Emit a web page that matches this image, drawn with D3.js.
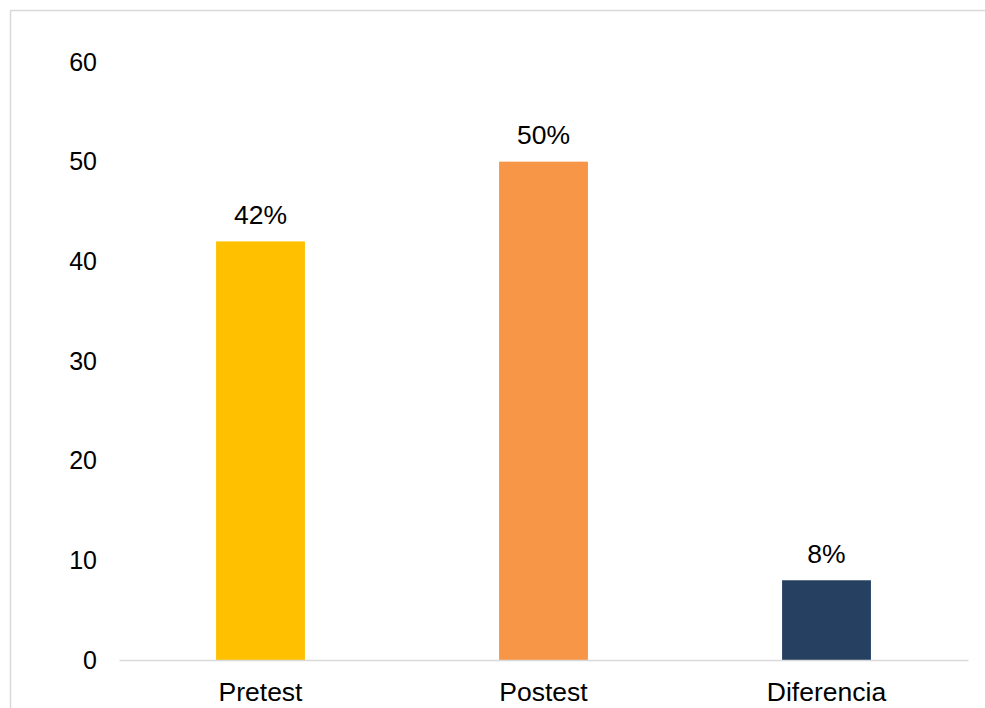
<!DOCTYPE html>
<html>
<head>
<meta charset="utf-8">
<script src="https://cdn.jsdelivr.net/npm/d3@7"></script>
<style>
  body { margin: 0; background: #fff; }
  svg { display: block; font-family: Arial, "Liberation Sans", sans-serif; }
</style>
</head>
<body>
<div id="chart-area"></div>
<script>
// data
let categories = ["Pretest", "Postest", "Diferencia"];
let values = [42, 50, 8];
let valueLabels = ["42%", "50%", "8%"];
let colors = ["#FFC000", "#F79646", "#254061"];
let yTicks = [0, 10, 20, 30, 40, 50, 60];

let W = 985, H = 708;
let m = {top: 62, right: 17, bottom: 48, left: 119};
let w = W - m.left - m.right;
let h = H - m.top - m.bottom;

let svg = d3.select("#chart-area")
    .append("svg")
    .attr("width", W)
    .attr("height", H);

// outer frame (cut off at right / bottom)
svg.append("rect")
    .attr("x", 10.5)
    .attr("y", 10.5)
    .attr("width", W)
    .attr("height", H)
    .attr("fill", "none")
    .attr("stroke", "#d9d9d9")
    .attr("stroke-width", 1.5);

let g = svg.append("g")
    .attr("transform", "translate(" + m.left + "," + m.top + ")");

let x = d3.scaleBand()
    .domain(categories)
    .range([0, w])
    .paddingInner(0.686)
    .paddingOuter(0.343);

let y = d3.scaleLinear()
    .domain([0, 60])
    .range([h, 0]);

// bars
g.selectAll("rect.bar")
    .data(values)
    .enter()
    .append("rect")
      .attr("class", "bar")
      .attr("x", function(d, i) { return x(categories[i]); })
      .attr("y", function(d) { return y(d); })
      .attr("width", x.bandwidth())
      .attr("height", function(d) { return h - y(d); })
      .attr("fill", function(d, i) { return colors[i]; });

// value labels
g.selectAll("text.val")
    .data(values)
    .enter()
    .append("text")
      .attr("class", "val")
      .attr("x", function(d, i) { return x(categories[i]) + x.bandwidth() / 2; })
      .attr("y", function(d) { return y(d) - 17.5; })
      .attr("text-anchor", "middle")
      .attr("font-size", "26.5px")
      .attr("fill", "#000")
      .text(function(d, i) { return valueLabels[i]; });

// x axis
let xAxisCall = d3.axisBottom(x).tickSize(0).tickPadding(22);
let xAxis = g.append("g")
    .attr("transform", "translate(0," + h + ")")
    .call(xAxisCall);
xAxis.select(".domain").attr("stroke", "#d9d9d9").attr("stroke-width", 1.5);
xAxis.selectAll("text").attr("font-size", "26.5px").attr("fill", "#000")
    .attr("font-family", "Arial, 'Liberation Sans', sans-serif");

// y axis (labels only)
let yAxisCall = d3.axisLeft(y).tickValues(yTicks).tickSize(0).tickPadding(22);
let yAxis = g.append("g").call(yAxisCall);
yAxis.select(".domain").remove();
yAxis.selectAll("text").attr("font-size", "25px").attr("fill", "#000")
    .attr("font-family", "Arial, 'Liberation Sans', sans-serif");
</script>
</body>
</html>
